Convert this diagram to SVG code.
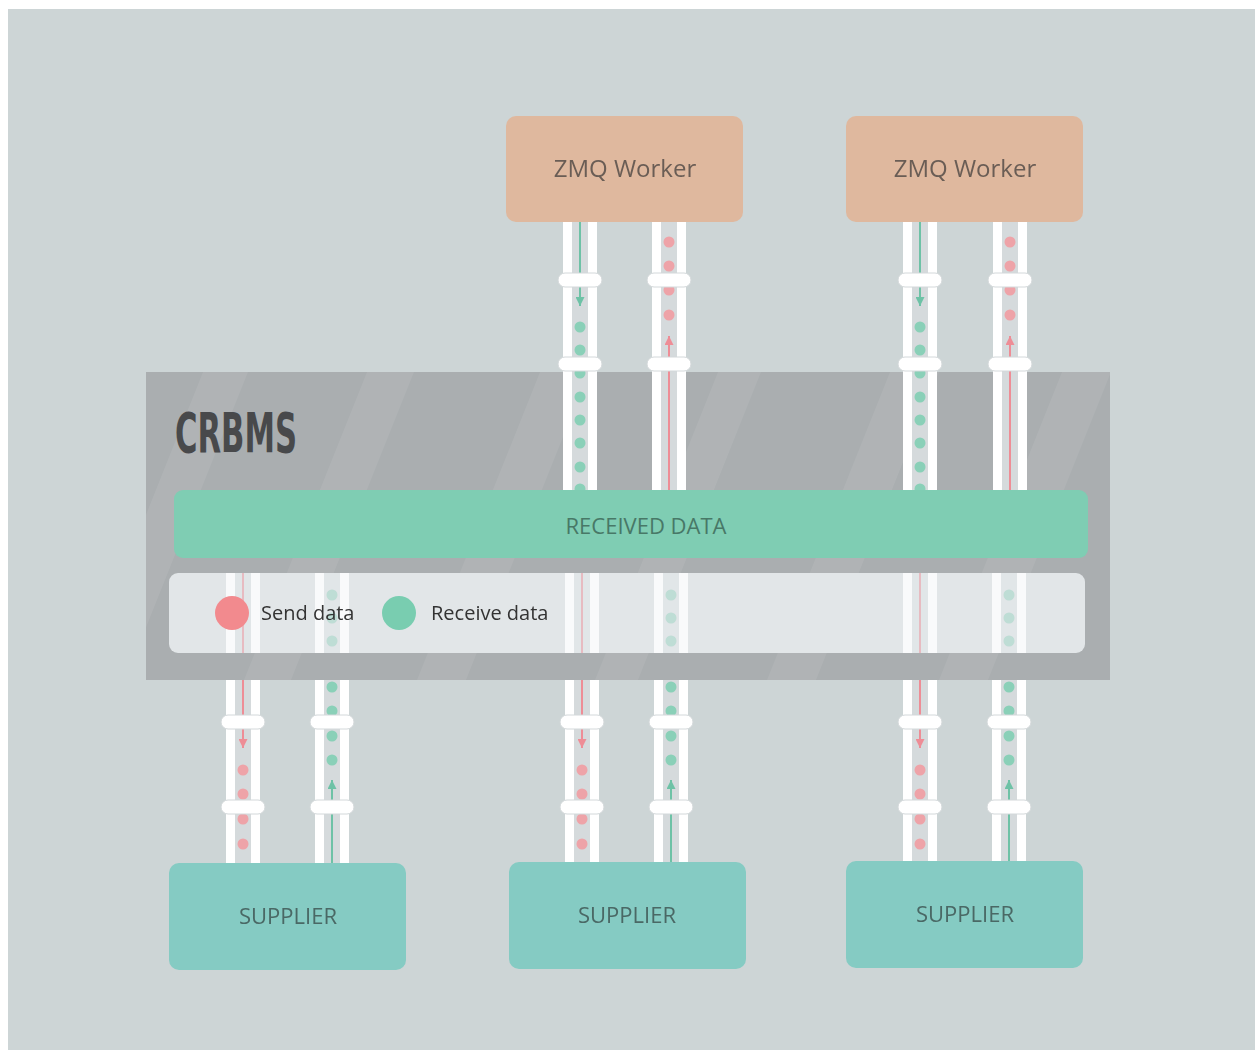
<svg xmlns="http://www.w3.org/2000/svg" width="1255" height="1050" viewBox="0 0 1255 1050">
<defs>
<style>
.bg{fill:#cdd5d6}
.panel{fill:#aaaeb0}
.band{fill:#ffffff;opacity:0.07}
.rail{fill:#ffffff}
.inner{fill:#d5dadc}
.ring{fill:#ffffff;stroke:#d3d8da;stroke-width:1}
.gdot{fill:#8ad0b8}
.rdot{fill:#eea3a8}
.gline{stroke:#6ec2a6;stroke-width:2;fill:none}
.rline{stroke:#ee8d96;stroke-width:2;fill:none}
.wbox{fill:#dfb89e}
.sbox{fill:#85cbc3}
.rbox{fill:#7fcdb3}
.lbox{fill:#e2e6e8}
text{font-family:"Open Sans","Liberation Sans",sans-serif}
.wt{font-size:24px;fill:#6a5d55;text-anchor:middle}
.st{font-size:22px;fill:#4a6865;text-anchor:middle}
.rt{font-size:22px;fill:#487867;text-anchor:middle}
.lt{font-size:20px;fill:#333333}
.title{font-family:"DejaVu Sans Condensed","Liberation Sans",sans-serif;font-weight:bold;font-size:56px;fill:#48494b}
</style>
<marker id="ag" viewBox="0 0 10 10" refX="10" refY="5" markerWidth="9" markerHeight="9" markerUnits="userSpaceOnUse" orient="auto">
<path d="M0,0 L10,5 L0,10 z" fill="#6ec2a6"/>
</marker>
<marker id="ar" viewBox="0 0 10 10" refX="10" refY="5" markerWidth="9" markerHeight="9" markerUnits="userSpaceOnUse" orient="auto">
<path d="M0,0 L10,5 L0,10 z" fill="#ee8d96"/>
</marker>
<clipPath id="pclip"><rect x="146" y="372" width="964" height="308"/></clipPath>
</defs>

<rect x="0" y="0" width="1255" height="1050" fill="#ffffff"/>
<rect class="bg" x="8" y="9" width="1247" height="1041"/>

<g id="crbms">
<rect class="panel" x="146" y="372" width="964" height="308"/>
<g clip-path="url(#pclip)">
<polygon class="band" points="80,680 125,680 248,372 203,372"/>
<polygon class="band" points="244,680 291,680 414,372 367,372"/>
<polygon class="band" points="417,680 466,680 589,372 540,372"/>
<polygon class="band" points="595,680 638,680 761,372 718,372"/>
<polygon class="band" points="767,680 816,680 939,372 890,372"/>
<polygon class="band" points="939,680 988,680 1111,372 1062,372"/>
<polygon class="band" points="1111,680 1160,680 1283,372 1234,372"/>
</g>
<text class="title" x="175" y="452" textLength="122" lengthAdjust="spacingAndGlyphs">CRBMS</text>
</g>

<g id="connectors">
<g id="pipe-w1-down">
<rect class="rail" x="563" y="222" width="34" height="268"/>
<rect class="inner" x="572" y="222" width="16" height="268"/>
<line class="gline" x1="580" y1="222" x2="580" y2="306" marker-end="url(#ag)"/>
<circle class="gdot" cx="580" cy="327" r="5.5"/><circle class="gdot" cx="580" cy="350" r="5.5"/><circle class="gdot" cx="580" cy="373" r="5.5"/><circle class="gdot" cx="580" cy="397" r="5.5"/><circle class="gdot" cx="580" cy="420" r="5.5"/><circle class="gdot" cx="580" cy="443" r="5.5"/><circle class="gdot" cx="580" cy="467" r="5.5"/><circle class="gdot" cx="580" cy="489" r="5.5"/>
<rect class="ring" x="558" y="273" width="44" height="14" rx="7"/>
<rect class="ring" x="558" y="357" width="44" height="14" rx="7"/>
</g>
<g id="pipe-w1-up">
<rect class="rail" x="652" y="222" width="34" height="268"/>
<rect class="inner" x="661" y="222" width="16" height="268"/>
<circle class="rdot" cx="669" cy="242" r="5.5"/><circle class="rdot" cx="669" cy="266" r="5.5"/><circle class="rdot" cx="669" cy="290" r="5.5"/><circle class="rdot" cx="669" cy="315" r="5.5"/>
<line class="rline" x1="669" y1="490" x2="669" y2="336" marker-end="url(#ar)"/>
<rect class="ring" x="647" y="273" width="44" height="14" rx="7"/>
<rect class="ring" x="647" y="357" width="44" height="14" rx="7"/>
</g>
<g id="pipe-w2-down">
<rect class="rail" x="903" y="222" width="34" height="268"/>
<rect class="inner" x="912" y="222" width="16" height="268"/>
<line class="gline" x1="920" y1="222" x2="920" y2="306" marker-end="url(#ag)"/>
<circle class="gdot" cx="920" cy="327" r="5.5"/><circle class="gdot" cx="920" cy="350" r="5.5"/><circle class="gdot" cx="920" cy="373" r="5.5"/><circle class="gdot" cx="920" cy="397" r="5.5"/><circle class="gdot" cx="920" cy="420" r="5.5"/><circle class="gdot" cx="920" cy="443" r="5.5"/><circle class="gdot" cx="920" cy="467" r="5.5"/><circle class="gdot" cx="920" cy="489" r="5.5"/>
<rect class="ring" x="898" y="273" width="44" height="14" rx="7"/>
<rect class="ring" x="898" y="357" width="44" height="14" rx="7"/>
</g>
<g id="pipe-w2-up">
<rect class="rail" x="993" y="222" width="34" height="268"/>
<rect class="inner" x="1002" y="222" width="16" height="268"/>
<circle class="rdot" cx="1010" cy="242" r="5.5"/><circle class="rdot" cx="1010" cy="266" r="5.5"/><circle class="rdot" cx="1010" cy="290" r="5.5"/><circle class="rdot" cx="1010" cy="315" r="5.5"/>
<line class="rline" x1="1010" y1="490" x2="1010" y2="336" marker-end="url(#ar)"/>
<rect class="ring" x="988" y="273" width="44" height="14" rx="7"/>
<rect class="ring" x="988" y="357" width="44" height="14" rx="7"/>
</g>

<g id="pipe-s1-down">
<rect class="rail" x="226" y="680" width="34" height="183"/>
<rect class="inner" x="235" y="680" width="16" height="183"/>
<line class="rline" x1="243" y1="680" x2="243" y2="748" marker-end="url(#ar)"/>
<circle class="rdot" cx="243" cy="770" r="5.5"/><circle class="rdot" cx="243" cy="794" r="5.5"/><circle class="rdot" cx="243" cy="819" r="5.5"/><circle class="rdot" cx="243" cy="844" r="5.5"/>
<rect class="ring" x="221" y="715" width="44" height="14" rx="7"/>
<rect class="ring" x="221" y="800" width="44" height="14" rx="7"/>
</g>
<g id="pipe-s1-up">
<rect class="rail" x="315" y="680" width="34" height="183"/>
<rect class="inner" x="324" y="680" width="16" height="183"/>
<circle class="gdot" cx="332" cy="687" r="5.5"/><circle class="gdot" cx="332" cy="711" r="5.5"/><circle class="gdot" cx="332" cy="736" r="5.5"/><circle class="gdot" cx="332" cy="760" r="5.5"/>
<line class="gline" x1="332" y1="863" x2="332" y2="780" marker-end="url(#ag)"/>
<rect class="ring" x="310" y="715" width="44" height="14" rx="7"/>
<rect class="ring" x="310" y="800" width="44" height="14" rx="7"/>
</g>
<g id="pipe-s2-down">
<rect class="rail" x="565" y="680" width="34" height="182"/>
<rect class="inner" x="574" y="680" width="16" height="182"/>
<line class="rline" x1="582" y1="680" x2="582" y2="748" marker-end="url(#ar)"/>
<circle class="rdot" cx="582" cy="770" r="5.5"/><circle class="rdot" cx="582" cy="794" r="5.5"/><circle class="rdot" cx="582" cy="819" r="5.5"/><circle class="rdot" cx="582" cy="844" r="5.5"/>
<rect class="ring" x="560" y="715" width="44" height="14" rx="7"/>
<rect class="ring" x="560" y="800" width="44" height="14" rx="7"/>
</g>
<g id="pipe-s2-up">
<rect class="rail" x="654" y="680" width="34" height="182"/>
<rect class="inner" x="663" y="680" width="16" height="182"/>
<circle class="gdot" cx="671" cy="687" r="5.5"/><circle class="gdot" cx="671" cy="711" r="5.5"/><circle class="gdot" cx="671" cy="736" r="5.5"/><circle class="gdot" cx="671" cy="760" r="5.5"/>
<line class="gline" x1="671" y1="862" x2="671" y2="780" marker-end="url(#ag)"/>
<rect class="ring" x="649" y="715" width="44" height="14" rx="7"/>
<rect class="ring" x="649" y="800" width="44" height="14" rx="7"/>
</g>
<g id="pipe-s3-down">
<rect class="rail" x="903" y="680" width="34" height="181"/>
<rect class="inner" x="912" y="680" width="16" height="181"/>
<line class="rline" x1="920" y1="680" x2="920" y2="748" marker-end="url(#ar)"/>
<circle class="rdot" cx="920" cy="770" r="5.5"/><circle class="rdot" cx="920" cy="794" r="5.5"/><circle class="rdot" cx="920" cy="819" r="5.5"/><circle class="rdot" cx="920" cy="844" r="5.5"/>
<rect class="ring" x="898" y="715" width="44" height="14" rx="7"/>
<rect class="ring" x="898" y="800" width="44" height="14" rx="7"/>
</g>
<g id="pipe-s3-up">
<rect class="rail" x="992" y="680" width="34" height="181"/>
<rect class="inner" x="1001" y="680" width="16" height="181"/>
<circle class="gdot" cx="1009" cy="687" r="5.5"/><circle class="gdot" cx="1009" cy="711" r="5.5"/><circle class="gdot" cx="1009" cy="736" r="5.5"/><circle class="gdot" cx="1009" cy="760" r="5.5"/>
<line class="gline" x1="1009" y1="861" x2="1009" y2="780" marker-end="url(#ag)"/>
<rect class="ring" x="987" y="715" width="44" height="14" rx="7"/>
<rect class="ring" x="987" y="800" width="44" height="14" rx="7"/>
</g>
</g>

<g id="received-data">
<rect class="rbox" x="174" y="490" width="914" height="68" rx="9"/>
<text class="rt" x="646" y="534">RECEIVED DATA</text>
</g>

<g id="legend">
<rect class="lbox" x="169" y="573" width="916" height="80" rx="9"/>
<g id="legend-pipes" opacity="0.8">
<rect class="rail" x="226" y="573" width="34" height="80"/><rect class="lbox" x="235" y="573" width="16" height="80"/><line class="rline" x1="243" y1="573" x2="243" y2="653" opacity="0.6"/>
<rect class="rail" x="315" y="573" width="34" height="80"/><rect class="lbox" x="324" y="573" width="16" height="80"/><circle class="gdot" cx="332" cy="595" r="5.5" opacity="0.5"/><circle class="gdot" cx="332" cy="618" r="5.5" opacity="0.5"/><circle class="gdot" cx="332" cy="641" r="5.5" opacity="0.5"/>
<rect class="rail" x="565" y="573" width="34" height="80"/><rect class="lbox" x="574" y="573" width="16" height="80"/><line class="rline" x1="582" y1="573" x2="582" y2="653" opacity="0.6"/>
<rect class="rail" x="654" y="573" width="34" height="80"/><rect class="lbox" x="663" y="573" width="16" height="80"/><circle class="gdot" cx="671" cy="595" r="5.5" opacity="0.5"/><circle class="gdot" cx="671" cy="618" r="5.5" opacity="0.5"/><circle class="gdot" cx="671" cy="641" r="5.5" opacity="0.5"/>
<rect class="rail" x="903" y="573" width="34" height="80"/><rect class="lbox" x="912" y="573" width="16" height="80"/><line class="rline" x1="920" y1="573" x2="920" y2="653" opacity="0.6"/>
<rect class="rail" x="992" y="573" width="34" height="80"/><rect class="lbox" x="1001" y="573" width="16" height="80"/><circle class="gdot" cx="1009" cy="595" r="5.5" opacity="0.5"/><circle class="gdot" cx="1009" cy="618" r="5.5" opacity="0.5"/><circle class="gdot" cx="1009" cy="641" r="5.5" opacity="0.5"/>
</g>
<circle cx="232" cy="613" r="17" fill="#f28a8e"/>
<text class="lt" x="261" y="620">Send data</text>
<circle cx="399" cy="613" r="17" fill="#79cdb0"/>
<text class="lt" x="431" y="620">Receive data</text>
</g>

<g id="worker-1">
<rect class="wbox" x="506" y="116" width="237" height="106" rx="10"/>
<text class="wt" x="625" y="177">ZMQ Worker</text>
</g>
<g id="worker-2">
<rect class="wbox" x="846" y="116" width="237" height="106" rx="10"/>
<text class="wt" x="965" y="177">ZMQ Worker</text>
</g>

<g id="supplier-1">
<rect class="sbox" x="169" y="863" width="237" height="107" rx="10"/>
<text class="st" x="288" y="924">SUPPLIER</text>
</g>
<g id="supplier-2">
<rect class="sbox" x="509" y="862" width="237" height="107" rx="10"/>
<text class="st" x="627" y="923">SUPPLIER</text>
</g>
<g id="supplier-3">
<rect class="sbox" x="846" y="861" width="237" height="107" rx="10"/>
<text class="st" x="965" y="922">SUPPLIER</text>
</g>
</svg>
